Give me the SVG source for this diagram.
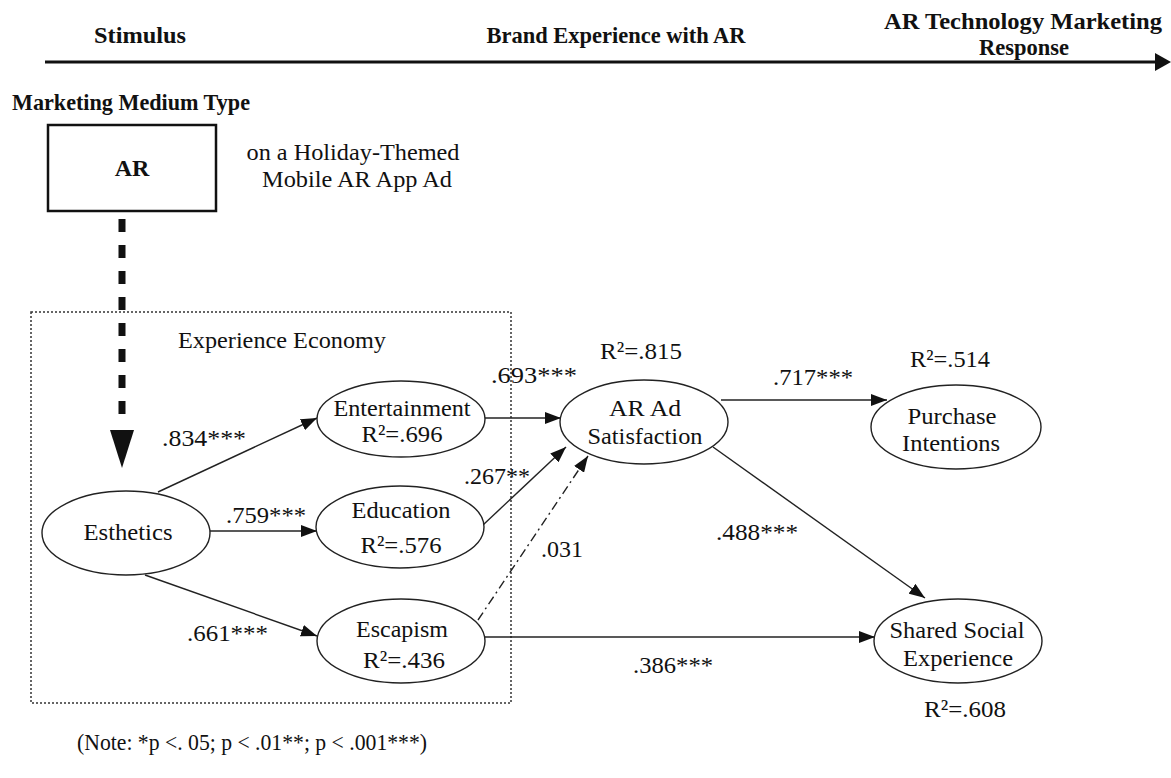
<svg xmlns="http://www.w3.org/2000/svg" width="1171" height="778" viewBox="0 0 1171 778">
<style>
text{font-family:"Liberation Serif","Times New Roman",serif;fill:#111;}
.h{font-weight:bold;font-size:24px;}
.t{font-size:24px;text-anchor:middle;}
.l{font-size:24px;}
.n{fill:#fff;stroke:#222;stroke-width:1.4;}
.c{stroke:#222;stroke-width:1.4;fill:none;}
</style>
<defs>
<marker id="ah" viewBox="0 0 16 12" refX="16" refY="6" markerWidth="16" markerHeight="12" markerUnits="userSpaceOnUse" orient="auto">
<path d="M0,0 L16,6 L0,12 z" fill="#111"/>
</marker>
</defs>
<rect width="1171" height="778" fill="#fff"/>

<g id="header">
<line x1="45" y1="62" x2="1157" y2="62" stroke="#111" stroke-width="3"/>
<path d="M1155,53 L1171,62 L1155,71 z" fill="#111"/>
<text class="h" x="140" y="43" text-anchor="middle" textLength="92" lengthAdjust="spacingAndGlyphs">Stimulus</text>
<text class="h" x="616" y="43" text-anchor="middle" textLength="259" lengthAdjust="spacingAndGlyphs">Brand Experience with AR</text>
<text class="h" x="1023" y="29" text-anchor="middle" textLength="278" lengthAdjust="spacingAndGlyphs">AR Technology Marketing</text>
<text class="h" x="1024" y="55" text-anchor="middle" textLength="90" lengthAdjust="spacingAndGlyphs">Response</text>
</g>

<text class="h" x="12" y="110" textLength="238" lengthAdjust="spacingAndGlyphs">Marketing Medium Type</text>

<g id="node-ar">
<rect x="48" y="125" width="168" height="86" fill="#fff" stroke="#111" stroke-width="2.5"/>
<text class="h" x="132" y="176" text-anchor="middle">AR</text>
</g>
<text class="t" x="353" y="160" textLength="213" lengthAdjust="spacingAndGlyphs">on a Holiday-Themed</text>
<text class="t" x="357" y="187" textLength="190" lengthAdjust="spacingAndGlyphs">Mobile AR App Ad</text>

<g id="experience-economy">
<rect x="31" y="312" width="480" height="391" fill="none" stroke="#333" stroke-width="1.5" stroke-dasharray="2 2"/>
<text class="t" x="282" y="348" textLength="208" lengthAdjust="spacingAndGlyphs">Experience Economy</text>
</g>

<g id="connectors">
<line x1="122" y1="219" x2="122" y2="415" stroke="#111" stroke-width="7" stroke-dasharray="13 13"/>
<path d="M110,430 L134,430 L122,468 z" fill="#111"/>
<line class="c" x1="158" y1="492" x2="317" y2="418" marker-end="url(#ah)"/>
<line class="c" x1="210" y1="531" x2="317" y2="531" marker-end="url(#ah)"/>
<line class="c" x1="145" y1="575" x2="317" y2="636" marker-end="url(#ah)"/>
<line class="c" x1="485" y1="418" x2="561" y2="418" marker-end="url(#ah)"/>
<line class="c" x1="483" y1="525" x2="566" y2="447" marker-end="url(#ah)"/>
<line class="c" x1="478" y1="620" x2="588" y2="456" stroke-dasharray="9 4 2 4" marker-end="url(#ah)"/>
<line class="c" x1="721" y1="400" x2="887" y2="400" marker-end="url(#ah)"/>
<line class="c" x1="713" y1="447" x2="925" y2="598" marker-end="url(#ah)"/>
<line class="c" x1="485" y1="637" x2="875" y2="637" marker-end="url(#ah)"/>
<text class="l" x="162" y="446" textLength="84" lengthAdjust="spacingAndGlyphs">.834***</text>
<text class="l" x="226" y="523" textLength="80" lengthAdjust="spacingAndGlyphs">.759***</text>
<text class="l" x="187" y="641" textLength="81" lengthAdjust="spacingAndGlyphs">.661***</text>
<text class="l" x="491" y="383" textLength="86" lengthAdjust="spacingAndGlyphs">.693***</text>
<text class="l" x="464" y="484" textLength="66" lengthAdjust="spacingAndGlyphs">.267**</text>
<text class="l" x="541" y="557" textLength="42" lengthAdjust="spacingAndGlyphs">.031</text>
<text class="l" x="773" y="385" textLength="80" lengthAdjust="spacingAndGlyphs">.717***</text>
<text class="l" x="716" y="540" textLength="82" lengthAdjust="spacingAndGlyphs">.488***</text>
<text class="l" x="633" y="673" textLength="80" lengthAdjust="spacingAndGlyphs">.386***</text>
</g>

<g id="node-esthetics">
<ellipse class="n" cx="126" cy="533" rx="84" ry="42"/>
<text class="t" x="128" y="540" textLength="89" lengthAdjust="spacingAndGlyphs">Esthetics</text>
</g>
<g id="node-entertainment">
<ellipse class="n" cx="401" cy="419" rx="84" ry="38"/>
<text class="t" x="402" y="416" textLength="137" lengthAdjust="spacingAndGlyphs">Entertainment</text>
<text class="t" x="402" y="442" textLength="81" lengthAdjust="spacingAndGlyphs">R²=.696</text>
</g>
<g id="node-education">
<ellipse class="n" cx="400" cy="527" rx="84" ry="41"/>
<text class="t" x="401" y="518" textLength="99" lengthAdjust="spacingAndGlyphs">Education</text>
<text class="t" x="401" y="553" textLength="81" lengthAdjust="spacingAndGlyphs">R²=.576</text>
</g>
<g id="node-escapism">
<ellipse class="n" cx="401" cy="641" rx="84" ry="42"/>
<text class="t" x="402" y="637" textLength="92" lengthAdjust="spacingAndGlyphs">Escapism</text>
<text class="t" x="404" y="668" textLength="82" lengthAdjust="spacingAndGlyphs">R²=.436</text>
</g>
<g id="node-satisfaction">
<ellipse class="n" cx="644" cy="422" rx="84" ry="42"/>
<text class="t" x="645" y="416" textLength="72" lengthAdjust="spacingAndGlyphs">AR Ad</text>
<text class="t" x="645" y="444" textLength="115" lengthAdjust="spacingAndGlyphs">Satisfaction</text>
<text class="t" x="641" y="359" textLength="82" lengthAdjust="spacingAndGlyphs">R²=.815</text>
</g>
<g id="node-purchase">
<ellipse class="n" cx="956" cy="427" rx="85" ry="42"/>
<text class="t" x="952" y="424" textLength="89" lengthAdjust="spacingAndGlyphs">Purchase</text>
<text class="t" x="951" y="451" textLength="98" lengthAdjust="spacingAndGlyphs">Intentions</text>
<text class="t" x="950" y="367" textLength="80" lengthAdjust="spacingAndGlyphs">R²=.514</text>
</g>
<g id="node-shared">
<ellipse class="n" cx="958" cy="641" rx="84" ry="42"/>
<text class="t" x="957" y="638" textLength="135" lengthAdjust="spacingAndGlyphs">Shared Social</text>
<text class="t" x="958" y="666" textLength="110" lengthAdjust="spacingAndGlyphs">Experience</text>
<text class="t" x="965" y="717" textLength="82" lengthAdjust="spacingAndGlyphs">R²=.608</text>
</g>

<text class="l" x="77" y="750" font-size="20" textLength="350" lengthAdjust="spacingAndGlyphs">(Note: *p &lt;. 05; p &lt; .01**; p &lt; .001***)</text>
</svg>
